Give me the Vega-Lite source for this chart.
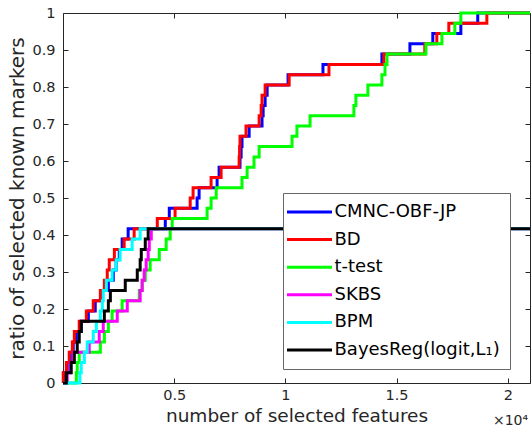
{
  "$schema": "https://vega.github.io/schema/vega-lite/v6.json",
  "width": 467,
  "height": 370,
  "autosize": "none",
  "padding": {"left": 63, "top": 13, "right": 1, "bottom": 45},
  "background": "white",
  "config": {
    "view": {"stroke": null},
    "axis": {
      "grid": false,
      "domainColor": "#262626",
      "tickColor": "#262626",
      "labelColor": "#262626",
      "titleColor": "#262626",
      "labelFont": "DejaVu Sans",
      "titleFont": "DejaVu Sans",
      "labelFontSize": 14.5,
      "titleFontSize": 18.5,
      "titleFontWeight": "normal",
      "tickSize": -5,
      "domainWidth": 1,
      "tickWidth": 1
    }
  },
  "data": {
    "values": [
      {"method": "CMNC-OBF-JP", "n": 0, "ratio": 0},
      {"method": "CMNC-OBF-JP", "n": 30, "ratio": 0.0278},
      {"method": "CMNC-OBF-JP", "n": 190, "ratio": 0.0556},
      {"method": "CMNC-OBF-JP", "n": 330, "ratio": 0.0833},
      {"method": "CMNC-OBF-JP", "n": 460, "ratio": 0.1111},
      {"method": "CMNC-OBF-JP", "n": 600, "ratio": 0.1389},
      {"method": "CMNC-OBF-JP", "n": 820, "ratio": 0.1667},
      {"method": "CMNC-OBF-JP", "n": 1140, "ratio": 0.1944},
      {"method": "CMNC-OBF-JP", "n": 1450, "ratio": 0.2222},
      {"method": "CMNC-OBF-JP", "n": 1770, "ratio": 0.25},
      {"method": "CMNC-OBF-JP", "n": 2040, "ratio": 0.2778},
      {"method": "CMNC-OBF-JP", "n": 2260, "ratio": 0.3056},
      {"method": "CMNC-OBF-JP", "n": 2390, "ratio": 0.3333},
      {"method": "CMNC-OBF-JP", "n": 2530, "ratio": 0.3611},
      {"method": "CMNC-OBF-JP", "n": 2660, "ratio": 0.3889},
      {"method": "CMNC-OBF-JP", "n": 2930, "ratio": 0.4167},
      {"method": "CMNC-OBF-JP", "n": 4600, "ratio": 0.4444},
      {"method": "CMNC-OBF-JP", "n": 4780, "ratio": 0.4722},
      {"method": "CMNC-OBF-JP", "n": 6030, "ratio": 0.5},
      {"method": "CMNC-OBF-JP", "n": 6120, "ratio": 0.5278},
      {"method": "CMNC-OBF-JP", "n": 6930, "ratio": 0.5556},
      {"method": "CMNC-OBF-JP", "n": 7020, "ratio": 0.5833},
      {"method": "CMNC-OBF-JP", "n": 7960, "ratio": 0.6111},
      {"method": "CMNC-OBF-JP", "n": 8010, "ratio": 0.6389},
      {"method": "CMNC-OBF-JP", "n": 8050, "ratio": 0.6667},
      {"method": "CMNC-OBF-JP", "n": 8370, "ratio": 0.6944},
      {"method": "CMNC-OBF-JP", "n": 8950, "ratio": 0.7222},
      {"method": "CMNC-OBF-JP", "n": 9000, "ratio": 0.75},
      {"method": "CMNC-OBF-JP", "n": 9090, "ratio": 0.7778},
      {"method": "CMNC-OBF-JP", "n": 9180, "ratio": 0.8056},
      {"method": "CMNC-OBF-JP", "n": 10120, "ratio": 0.8333},
      {"method": "CMNC-OBF-JP", "n": 11690, "ratio": 0.8611},
      {"method": "CMNC-OBF-JP", "n": 14340, "ratio": 0.8889},
      {"method": "CMNC-OBF-JP", "n": 15600, "ratio": 0.9167},
      {"method": "CMNC-OBF-JP", "n": 16630, "ratio": 0.9444},
      {"method": "CMNC-OBF-JP", "n": 17890, "ratio": 0.9722},
      {"method": "CMNC-OBF-JP", "n": 18650, "ratio": 1},
      {"method": "CMNC-OBF-JP", "n": 21000, "ratio": 1},
      {"method": "BD", "n": 0, "ratio": 0},
      {"method": "BD", "n": 10, "ratio": 0.0278},
      {"method": "BD", "n": 150, "ratio": 0.0556},
      {"method": "BD", "n": 280, "ratio": 0.0833},
      {"method": "BD", "n": 420, "ratio": 0.1111},
      {"method": "BD", "n": 510, "ratio": 0.1389},
      {"method": "BD", "n": 730, "ratio": 0.1667},
      {"method": "BD", "n": 1050, "ratio": 0.1944},
      {"method": "BD", "n": 1360, "ratio": 0.2222},
      {"method": "BD", "n": 1680, "ratio": 0.25},
      {"method": "BD", "n": 1860, "ratio": 0.2778},
      {"method": "BD", "n": 1990, "ratio": 0.3056},
      {"method": "BD", "n": 2080, "ratio": 0.3333},
      {"method": "BD", "n": 2310, "ratio": 0.3611},
      {"method": "BD", "n": 2750, "ratio": 0.3889},
      {"method": "BD", "n": 3200, "ratio": 0.4167},
      {"method": "BD", "n": 4240, "ratio": 0.4444},
      {"method": "BD", "n": 5040, "ratio": 0.4722},
      {"method": "BD", "n": 5720, "ratio": 0.5},
      {"method": "BD", "n": 5850, "ratio": 0.5278},
      {"method": "BD", "n": 6660, "ratio": 0.5556},
      {"method": "BD", "n": 7110, "ratio": 0.5833},
      {"method": "BD", "n": 7920, "ratio": 0.6111},
      {"method": "BD", "n": 7940, "ratio": 0.6389},
      {"method": "BD", "n": 7960, "ratio": 0.6667},
      {"method": "BD", "n": 8230, "ratio": 0.6944},
      {"method": "BD", "n": 8820, "ratio": 0.7222},
      {"method": "BD", "n": 8910, "ratio": 0.75},
      {"method": "BD", "n": 8950, "ratio": 0.7778},
      {"method": "BD", "n": 9090, "ratio": 0.8056},
      {"method": "BD", "n": 10170, "ratio": 0.8333},
      {"method": "BD", "n": 11960, "ratio": 0.8611},
      {"method": "BD", "n": 14430, "ratio": 0.8889},
      {"method": "BD", "n": 16270, "ratio": 0.9167},
      {"method": "BD", "n": 16810, "ratio": 0.9444},
      {"method": "BD", "n": 17350, "ratio": 0.9722},
      {"method": "BD", "n": 19060, "ratio": 1},
      {"method": "BD", "n": 21000, "ratio": 1},
      {"method": "t-test", "n": 0, "ratio": 0},
      {"method": "t-test", "n": 600, "ratio": 0.0278},
      {"method": "t-test", "n": 640, "ratio": 0.0556},
      {"method": "t-test", "n": 730, "ratio": 0.0833},
      {"method": "t-test", "n": 1680, "ratio": 0.1111},
      {"method": "t-test", "n": 1860, "ratio": 0.1389},
      {"method": "t-test", "n": 2040, "ratio": 0.1667},
      {"method": "t-test", "n": 2210, "ratio": 0.1944},
      {"method": "t-test", "n": 2660, "ratio": 0.2222},
      {"method": "t-test", "n": 3430, "ratio": 0.25},
      {"method": "t-test", "n": 3560, "ratio": 0.2778},
      {"method": "t-test", "n": 3700, "ratio": 0.3056},
      {"method": "t-test", "n": 3920, "ratio": 0.3333},
      {"method": "t-test", "n": 4330, "ratio": 0.3611},
      {"method": "t-test", "n": 4640, "ratio": 0.3889},
      {"method": "t-test", "n": 4820, "ratio": 0.4167},
      {"method": "t-test", "n": 4910, "ratio": 0.4444},
      {"method": "t-test", "n": 6480, "ratio": 0.4722},
      {"method": "t-test", "n": 6660, "ratio": 0.5},
      {"method": "t-test", "n": 6890, "ratio": 0.5278},
      {"method": "t-test", "n": 8050, "ratio": 0.5556},
      {"method": "t-test", "n": 8280, "ratio": 0.5833},
      {"method": "t-test", "n": 8590, "ratio": 0.6111},
      {"method": "t-test", "n": 8820, "ratio": 0.6389},
      {"method": "t-test", "n": 10300, "ratio": 0.6667},
      {"method": "t-test", "n": 10520, "ratio": 0.6944},
      {"method": "t-test", "n": 11110, "ratio": 0.7222},
      {"method": "t-test", "n": 13080, "ratio": 0.75},
      {"method": "t-test", "n": 13170, "ratio": 0.7778},
      {"method": "t-test", "n": 13710, "ratio": 0.8056},
      {"method": "t-test", "n": 14340, "ratio": 0.8333},
      {"method": "t-test", "n": 14480, "ratio": 0.8611},
      {"method": "t-test", "n": 14570, "ratio": 0.8889},
      {"method": "t-test", "n": 16320, "ratio": 0.9167},
      {"method": "t-test", "n": 17040, "ratio": 0.9444},
      {"method": "t-test", "n": 17620, "ratio": 0.9722},
      {"method": "t-test", "n": 17890, "ratio": 1},
      {"method": "t-test", "n": 21000, "ratio": 1},
      {"method": "SKBS", "n": 0, "ratio": 0},
      {"method": "SKBS", "n": 190, "ratio": 0.0278},
      {"method": "SKBS", "n": 330, "ratio": 0.0556},
      {"method": "SKBS", "n": 460, "ratio": 0.0833},
      {"method": "SKBS", "n": 1180, "ratio": 0.1111},
      {"method": "SKBS", "n": 1630, "ratio": 0.1389},
      {"method": "SKBS", "n": 1810, "ratio": 0.1667},
      {"method": "SKBS", "n": 2440, "ratio": 0.1944},
      {"method": "SKBS", "n": 2890, "ratio": 0.2222},
      {"method": "SKBS", "n": 3470, "ratio": 0.25},
      {"method": "SKBS", "n": 3560, "ratio": 0.2778},
      {"method": "SKBS", "n": 3650, "ratio": 0.3056},
      {"method": "SKBS", "n": 3740, "ratio": 0.3333},
      {"method": "SKBS", "n": 3830, "ratio": 0.3611},
      {"method": "SKBS", "n": 3880, "ratio": 0.3889},
      {"method": "SKBS", "n": 3970, "ratio": 0.4167},
      {"method": "SKBS", "n": 21000, "ratio": 0.4167},
      {"method": "BPM", "n": 0, "ratio": 0},
      {"method": "BPM", "n": 760, "ratio": 0.0278},
      {"method": "BPM", "n": 820, "ratio": 0.0556},
      {"method": "BPM", "n": 960, "ratio": 0.0833},
      {"method": "BPM", "n": 1090, "ratio": 0.1111},
      {"method": "BPM", "n": 1360, "ratio": 0.1389},
      {"method": "BPM", "n": 1500, "ratio": 0.1667},
      {"method": "BPM", "n": 1680, "ratio": 0.1944},
      {"method": "BPM", "n": 1770, "ratio": 0.2222},
      {"method": "BPM", "n": 1810, "ratio": 0.25},
      {"method": "BPM", "n": 1950, "ratio": 0.2778},
      {"method": "BPM", "n": 2210, "ratio": 0.3056},
      {"method": "BPM", "n": 2390, "ratio": 0.3333},
      {"method": "BPM", "n": 2570, "ratio": 0.3611},
      {"method": "BPM", "n": 3110, "ratio": 0.3889},
      {"method": "BPM", "n": 3470, "ratio": 0.4167},
      {"method": "BPM", "n": 21000, "ratio": 0.4167},
      {"method": "BayesReg(logit,L₁)", "n": 0, "ratio": 0},
      {"method": "BayesReg(logit,L₁)", "n": 150, "ratio": 0.0278},
      {"method": "BayesReg(logit,L₁)", "n": 370, "ratio": 0.0556},
      {"method": "BayesReg(logit,L₁)", "n": 510, "ratio": 0.0833},
      {"method": "BayesReg(logit,L₁)", "n": 640, "ratio": 0.1111},
      {"method": "BayesReg(logit,L₁)", "n": 730, "ratio": 0.1389},
      {"method": "BayesReg(logit,L₁)", "n": 820, "ratio": 0.1667},
      {"method": "BayesReg(logit,L₁)", "n": 1860, "ratio": 0.1944},
      {"method": "BayesReg(logit,L₁)", "n": 2040, "ratio": 0.2222},
      {"method": "BayesReg(logit,L₁)", "n": 2130, "ratio": 0.25},
      {"method": "BayesReg(logit,L₁)", "n": 2800, "ratio": 0.2778},
      {"method": "BayesReg(logit,L₁)", "n": 3340, "ratio": 0.3056},
      {"method": "BayesReg(logit,L₁)", "n": 3470, "ratio": 0.3333},
      {"method": "BayesReg(logit,L₁)", "n": 3520, "ratio": 0.3611},
      {"method": "BayesReg(logit,L₁)", "n": 3700, "ratio": 0.3889},
      {"method": "BayesReg(logit,L₁)", "n": 3830, "ratio": 0.4167},
      {"method": "BayesReg(logit,L₁)", "n": 21000, "ratio": 0.4167}
    ]
  },
  "layer": [
    {
      "transform": [{"filter": "datum.method != 'BayesReg(logit,L₁)'"}],
      "mark": {"type": "line", "interpolate": "step-after", "strokeWidth": 3},
      "encoding": {
        "x": {
          "field": "n", "type": "quantitative",
          "scale": {"domain": [0, 21000], "nice": false, "zero": false},
          "axis": {
            "orient": "bottom",
            "values": [0, 5000, 10000, 15000, 20000],
            "labelExpr": "datum.value == 0 ? '' : format(datum.value / 10000, '~g')",
            "labelPadding": 10,
            "title": "number of selected features",
            "titleX": 233.5,
            "titleY": 38,
            "titleBaseline": "alphabetic",
            "titleAnchor": null
          }
        },
        "y": {
          "field": "ratio", "type": "quantitative",
          "scale": {"domain": [0, 1], "nice": false},
          "axis": {
            "orient": "left",
            "values": [0, 0.1, 0.2, 0.3, 0.4, 0.5, 0.6, 0.7, 0.8, 0.9, 1],
            "format": "~g",
            "labelPadding": 13,
            "title": "ratio of selected known markers",
            "titleFontSize": 20,
            "titleX": -46,
            "titleY": 185,
            "titleAngle": -90,
            "titleAlign": "center",
            "titleBaseline": "middle"
          }
        },
        "color": {
          "field": "method", "type": "nominal",
          "scale": {
            "domain": ["CMNC-OBF-JP", "BD", "t-test", "SKBS", "BPM", "BayesReg(logit,L₁)"],
            "range": ["#0000ff", "#ff0000", "#00ff00", "#ff00ff", "#00ffff", "#000000"]
          },
          "legend": {
            "orient": "none",
            "legendX": 220,
            "legendY": 180,
            "title": null,
            "padding": 10,
            "strokeColor": "#666666",
            "fillColor": "white",
            "cornerRadius": 0,
            "symbolType": "M-3,0H3",
            "symbolSize": 225,
            "symbolStrokeWidth": 3,
            "symbolOffset": 7.5,
            "labelOffset": 16,
            "labelFont": "DejaVu Sans",
            "labelFontSize": 18,
            "labelColor": "#000000",
            "labelLimit": 400,
            "rowPadding": 9.6
          }
        }
      }
    },
    {
      "transform": [{"filter": "datum.method == 'BayesReg(logit,L₁)'"}],
      "mark": {"type": "line", "interpolate": "step-after", "strokeWidth": 3},
      "encoding": {
        "x": {
          "field": "n", "type": "quantitative",
          "scale": {"domain": [0, 21000], "nice": false, "zero": false},
          "axis": {
            "orient": "top",
            "values": [5000, 10000, 15000, 20000],
            "labels": false,
            "title": null
          }
        },
        "y": {
          "field": "ratio", "type": "quantitative",
          "scale": {"domain": [0, 1], "nice": false},
          "axis": {
            "orient": "right",
            "values": [0, 0.1, 0.2, 0.3, 0.4, 0.5, 0.6, 0.7, 0.8, 0.9, 1],
            "labels": false,
            "title": "×10⁴",
            "titleFontSize": 14,
            "titleAngle": 0,
            "titleX": -20,
            "titleY": 411,
            "titleAlign": "center",
            "titleBaseline": "alphabetic"
          }
        },
        "color": {
          "field": "method", "type": "nominal",
          "scale": {
            "domain": ["CMNC-OBF-JP", "BD", "t-test", "SKBS", "BPM", "BayesReg(logit,L₁)"],
            "range": ["#0000ff", "#ff0000", "#00ff00", "#ff00ff", "#00ffff", "#000000"]
          }
        }
      }
    }
  ],
  "resolve": {"axis": {"x": "independent", "y": "independent"}}
}
